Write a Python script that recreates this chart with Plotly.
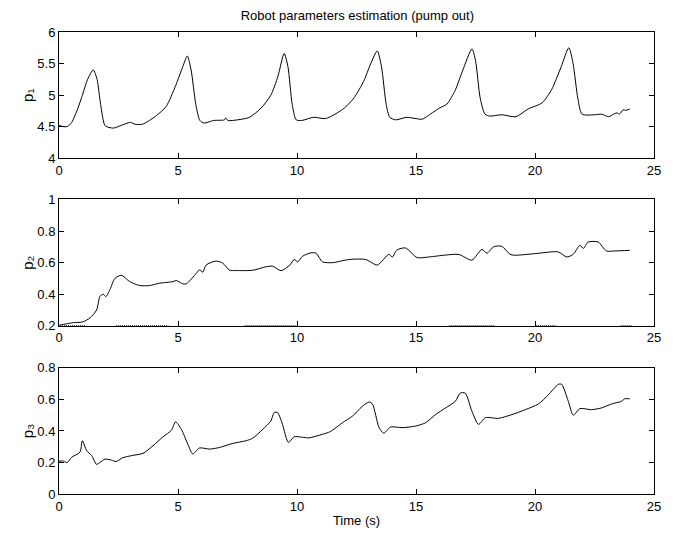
import plotly.graph_objects as go
from plotly.subplots import make_subplots

# Estimated parameter p1 over time
t1 = [0.0, 0.3, 0.5, 0.75, 1.0, 1.2, 1.44, 1.6, 1.75, 1.93, 2.1, 2.3, 2.6, 3.0, 3.2,
      3.5, 3.8, 4.1, 4.5, 4.9, 5.2, 5.39, 5.55, 5.75, 5.92, 6.1, 6.5, 6.95, 7.0, 7.1,
      7.5, 8.0, 8.5, 8.9, 9.2, 9.46, 9.62, 9.8, 9.97, 10.2, 10.7, 11.2, 11.6, 12.0,
      12.4, 12.8, 13.1, 13.37, 13.55, 13.75, 13.9, 14.15, 14.6, 15.0, 15.26, 15.6,
      16.0, 16.3, 16.65, 16.95, 17.35, 17.5, 17.7, 17.9, 18.1, 18.6, 19.2, 19.7,
      20.3, 20.7, 21.1, 21.42, 21.6, 21.8, 21.98, 22.5, 22.8, 23.1, 23.3, 23.45,
      23.55, 23.7, 23.8, 23.98]
p1 = [4.52, 4.50, 4.55, 4.75, 5.02, 5.25, 5.40, 5.25, 4.85, 4.52, 4.49, 4.48, 4.52,
      4.57, 4.54, 4.54, 4.60, 4.68, 4.82, 5.15, 5.45, 5.62, 5.40, 4.85, 4.60, 4.56,
      4.60, 4.61, 4.64, 4.60, 4.61, 4.65, 4.80, 5.00, 5.30, 5.66, 5.45, 4.85, 4.61,
      4.60, 4.65, 4.63, 4.70, 4.80, 4.96, 5.22, 5.50, 5.70, 5.45, 4.85, 4.65, 4.61,
      4.65, 4.63, 4.62, 4.70, 4.80, 4.86, 5.08, 5.38, 5.73, 5.55, 4.95, 4.70, 4.67,
      4.69, 4.66, 4.78, 4.88, 5.09, 5.45, 5.75, 5.50, 4.95, 4.70, 4.69, 4.70, 4.66,
      4.70, 4.72, 4.70, 4.77, 4.76, 4.78]

# Estimated parameter p2 over time
t2 = [0.0, 0.3, 0.6, 1.0, 1.3, 1.58, 1.72, 1.86, 1.97, 2.14, 2.35, 2.62, 2.97, 3.39,
      3.8, 4.23, 4.79, 4.93, 5.2, 5.35, 5.77, 5.9, 6.04, 6.18, 6.6, 6.88, 7.16, 7.44,
      8.14, 8.7, 8.97, 9.33, 9.7, 9.88, 10.03, 10.23, 10.58, 10.8, 11.07, 11.5,
      12.19, 12.89, 13.37, 13.86, 14.0, 14.2, 14.56, 15.05, 15.54, 16.24, 16.8,
      17.35, 17.77, 17.98, 18.26, 18.6, 18.95, 19.15, 19.99, 20.98, 21.33, 21.6,
      21.89, 22.03, 22.23, 22.65, 23.0, 23.35, 23.98]
p2 = [0.204, 0.212, 0.22, 0.225, 0.25, 0.30, 0.387, 0.40, 0.385, 0.43, 0.50, 0.52,
      0.48, 0.455, 0.455, 0.47, 0.48, 0.487, 0.466, 0.466, 0.533, 0.555, 0.54, 0.585,
      0.61, 0.597, 0.553, 0.55, 0.552, 0.574, 0.578, 0.549, 0.585, 0.62, 0.605, 0.64,
      0.662, 0.66, 0.605, 0.60, 0.62, 0.62, 0.585, 0.653, 0.635, 0.68, 0.693, 0.632,
      0.636, 0.648, 0.652, 0.616, 0.684, 0.66, 0.70, 0.704, 0.653, 0.647, 0.657,
      0.668, 0.636, 0.652, 0.71, 0.69, 0.73, 0.731, 0.674, 0.674, 0.678]

# Lower estimate for p2, only visible where it rises to the axis floor
t2_low = [0.04, 1.1, None, 2.4, 4.6, None, 7.8, 10.0, None, 16.4, 18.3, None,
          20.05, 20.9, None, 23.6, 24.1]
p2_low = [0.202, 0.202, None, 0.202, 0.202, None, 0.202, 0.202, None, 0.202, 0.202,
          None, 0.202, 0.202, None, 0.202, 0.202]

# Estimated parameter p3 over time
t3 = [0.0, 0.14, 0.35, 0.53, 0.88, 0.98, 1.16, 1.37, 1.58, 1.72, 1.93, 2.2, 2.4,
      2.68, 3.1, 3.53, 3.95, 4.37, 4.72, 4.9, 5.14, 5.41, 5.62, 5.9, 6.32, 6.74, 7.3,
      7.86, 8.14, 8.56, 8.9, 9.05, 9.19, 9.39, 9.64, 9.88, 10.23, 10.5, 11.07, 11.4,
      11.91, 12.33, 12.74, 13.03, 13.17, 13.45, 13.65, 13.93, 14.42, 14.98, 15.4,
      15.82, 16.24, 16.65, 16.86, 17.07, 17.35, 17.63, 17.91, 18.47, 19.03, 19.59,
      20.14, 20.56, 20.98, 21.12, 21.4, 21.61, 21.89, 22.37, 22.79, 23.21, 23.63,
      23.77, 23.98]
p3 = [0.208, 0.21, 0.20, 0.233, 0.265, 0.338, 0.275, 0.244, 0.188, 0.20, 0.221,
      0.215, 0.206, 0.23, 0.245, 0.258, 0.306, 0.363, 0.404, 0.458, 0.41, 0.317,
      0.254, 0.292, 0.285, 0.295, 0.321, 0.338, 0.354, 0.41, 0.463, 0.519, 0.515,
      0.442, 0.327, 0.363, 0.36, 0.356, 0.379, 0.396, 0.452, 0.494, 0.556, 0.584,
      0.571, 0.421, 0.386, 0.425, 0.421, 0.431, 0.452, 0.504, 0.546, 0.588, 0.64,
      0.64, 0.525, 0.442, 0.484, 0.48, 0.504, 0.535, 0.571, 0.629, 0.696, 0.696,
      0.588, 0.50, 0.542, 0.535, 0.546, 0.571, 0.588, 0.604, 0.604]

x_ticks = [0, 5, 10, 15, 20, 25]
y1_ticks = [4, 4.5, 5, 5.5, 6]
y2_ticks = [0.2, 0.4, 0.6, 0.8, 1]
y3_ticks = [0, 0.2, 0.4, 0.6, 0.8]

FONT = "Liberation Sans, Arial, Helvetica, sans-serif"
line = dict(color="black", width=1, shape="spline", smoothing=0.7)

fig = make_subplots(rows=3, cols=1)
fig.add_trace(go.Scatter(x=t1, y=p1, mode="lines", line=line), row=1, col=1)
fig.add_trace(go.Scatter(x=t2, y=p2, mode="lines", line=line), row=2, col=1)
fig.add_trace(go.Scatter(x=t2_low, y=p2_low, mode="lines",
                         line=dict(color="black", width=1, dash="1px,1px")),
              row=2, col=1)
fig.add_trace(go.Scatter(x=t3, y=p3, mode="lines", line=line), row=3, col=1)

axis_common = dict(showline=True, linecolor="black", linewidth=1, mirror="ticks",
                   ticks="inside", ticklen=5, tickcolor="black", showgrid=False,
                   zeroline=False, tickfont=dict(family=FONT, size=13, color="black"))

domains = [[0.7264, 1.0], [0.364, 0.6375], [0.0, 0.2729]]
y_ranges = [[4, 6], [0.2, 1], [0, 0.8]]
y_tick_sets = [y1_ticks, y2_ticks, y3_ticks]
y_titles = ["p\u2081", "p\u2082", "p\u2083"]

for i in range(3):
    fig.update_xaxes(range=[0, 25], tickvals=x_ticks, row=i + 1, col=1, **axis_common)
    fig.update_yaxes(range=y_ranges[i], tickvals=y_tick_sets[i], domain=domains[i],
                     title=dict(text=y_titles[i], standoff=0,
                                font=dict(family=FONT, size=15, color="black")),
                     row=i + 1, col=1, **axis_common)

fig.update_xaxes(title=dict(text="Time (s)", standoff=3,
                            font=dict(family=FONT, size=13, color="black")),
                 row=3, col=1)

fig.update_layout(
    width=673, height=538,
    margin=dict(l=59, r=17, t=32, b=37),
    paper_bgcolor="white", plot_bgcolor="white",
    showlegend=False,
    title=dict(text="Robot parameters estimation (pump out)", x=0.531, xanchor="center",
               y=0.972, yanchor="middle",
               font=dict(family=FONT, size=13, color="black")),
)

fig.write_html("out.html")
